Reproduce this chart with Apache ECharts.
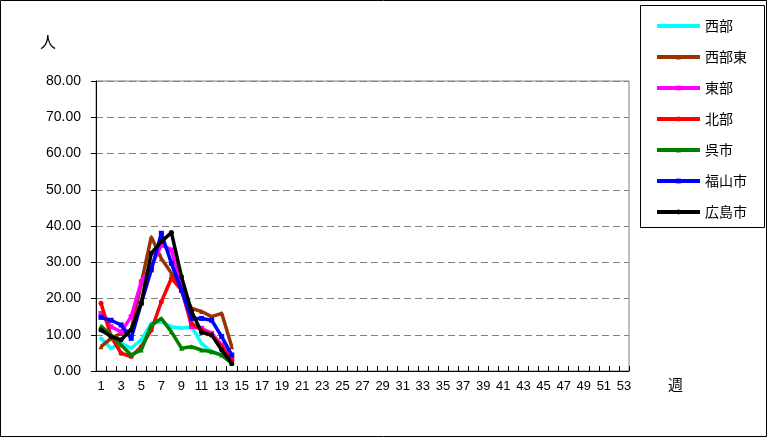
<!DOCTYPE html>
<html>
<head>
<meta charset="utf-8">
<script src="https://cdn.jsdelivr.net/npm/echarts@6/dist/echarts.min.js"></script>
<style>
html,body{margin:0;padding:0;background:#fff;}
#c{width:767px;height:437px;}
</style>
</head>
<body>
<div id="c"></div>
<script>
var weeks = [];
for (var i = 1; i <= 53; i++) weeks.push(String(i));

var seriesNames = ['西部', '西部東', '東部', '北部', '呉市', '福山市', '広島市'];
var seriesColors = ['#00FFFF', '#993300', '#FF00FF', '#FF0000', '#008000', '#0000FF', '#000000'];
var seriesSymbols = ['diamond', 'triangle', 'rect', 'circle', 'triangle', 'rect', 'circle'];

var seibu      = [9.0, 6.3, 7.6, 6.3, 8.6, 13.1, 13.6, 12.2, 11.8, 12.2, 7.6, 5.3, 4.4, 3.0];
var seibuHigashi = [6.7, 9.0, 10.4, 11.3, 24.2, 37.0, 31.0, 27.0, 22.3, 17.3, 16.4, 15.0, 15.9, 6.7];
var toubu      = [15.9, 12.2, 10.8, 15.0, 24.6, 28.8, 34.8, 33.4, 23.3, 12.2, 11.8, 10.4, 7.2, 3.5];
var hokubu     = [18.7, 9.5, 4.9, 4.0, 6.7, 11.3, 19.1, 25.6, 22.3, 13.1, 11.3, 9.9, 6.7, 3.0];
var kure       = [12.4, 9.9, 7.2, 4.4, 5.8, 12.7, 14.5, 10.8, 6.3, 6.7, 5.8, 5.3, 4.4, 2.1];
var fukuyama   = [14.8, 14.0, 12.7, 9.0, 18.7, 27.9, 38.0, 29.7, 22.3, 14.5, 14.5, 14.0, 9.5, 4.4];
var hiroshima  = [11.3, 9.5, 8.6, 11.3, 18.7, 32.5, 35.7, 38.2, 26.0, 16.5, 10.6, 9.9, 5.8, 2.1];

var seriesData = [seibu, seibuHigashi, toubu, hokubu, kure, fukuyama, hiroshima];

var yMin = 0, yMax = 80, yStep = 10;

var chart = echarts.init(document.getElementById('c'));
var series = seriesNames.map(function (n, i) {
  return {
    name: n,
    type: 'line',
    data: seriesData[i],
    symbol: seriesSymbols[i],
    symbolSize: 5,
    showSymbol: true,
    lineStyle: { width: 3.5, color: seriesColors[i] },
    itemStyle: { color: seriesColors[i] },
    emphasis: { disabled: true },
    animation: false,
    z: 3 + i
  };
});

chart.setOption({
  animation: false,
  textStyle: { fontFamily: 'Liberation Sans, Arial, sans-serif' },
  grid: {
    left: 96, top: 81, right: 138, bottom: 66,
    show: true, borderColor: '#808080', borderWidth: 1, backgroundColor: 'transparent'
  },
  legend: {
    orient: 'vertical',
    left: 655, top: 19,
    itemWidth: 43, itemHeight: 6, itemGap: 17,
    padding: 0,
    lineStyle: { width: 4 },
    textStyle: { fontSize: 14, lineHeight: 14, color: '#000', fontFamily: 'Noto Sans CJK JP, sans-serif' },
    data: seriesNames
  },
  xAxis: {
    type: 'category',
    data: weeks,
    boundaryGap: true,
    axisLine: { show: true, lineStyle: { color: '#000', width: 1 } },
    axisTick: { show: true, inside: true, length: 5, interval: 0, lineStyle: { color: '#000' } },
    axisLabel: { interval: 1, margin: 9, fontSize: 13, color: '#000' },
    splitLine: { show: false }
  },
  yAxis: {
    type: 'value',
    min: yMin, max: yMax, interval: yStep,
    axisLine: { show: true, lineStyle: { color: '#000', width: 1 } },
    axisTick: { show: true, inside: false, length: 5, lineStyle: { color: '#000' } },
    axisLabel: {
      margin: 15, fontSize: 14, color: '#000',
      formatter: function (v) { return v.toFixed(2); }
    },
    splitLine: { show: true, lineStyle: { color: '#808080', type: [7, 4], width: 1 } }
  },
  graphic: [
    { type: 'rect', shape: { x: 0.5, y: 0.5, width: 766, height: 436 }, style: { fill: 'none', stroke: '#000', lineWidth: 1 }, silent: true },
    { type: 'rect', shape: { x: 640.5, y: 5.5, width: 124, height: 222 }, style: { fill: 'none', stroke: '#000', lineWidth: 1 }, silent: true },
    { type: 'text', left: 40, top: 34, style: { text: '人', fontSize: 16, fill: '#000', fontFamily: 'Noto Sans CJK JP, sans-serif' }, silent: true },
    { type: 'text', left: 668, top: 377, style: { text: '週', fontSize: 15, fill: '#000', fontFamily: 'Noto Sans CJK JP, sans-serif' }, silent: true }
  ],
  series: series
});
</script>
</body>
</html>
